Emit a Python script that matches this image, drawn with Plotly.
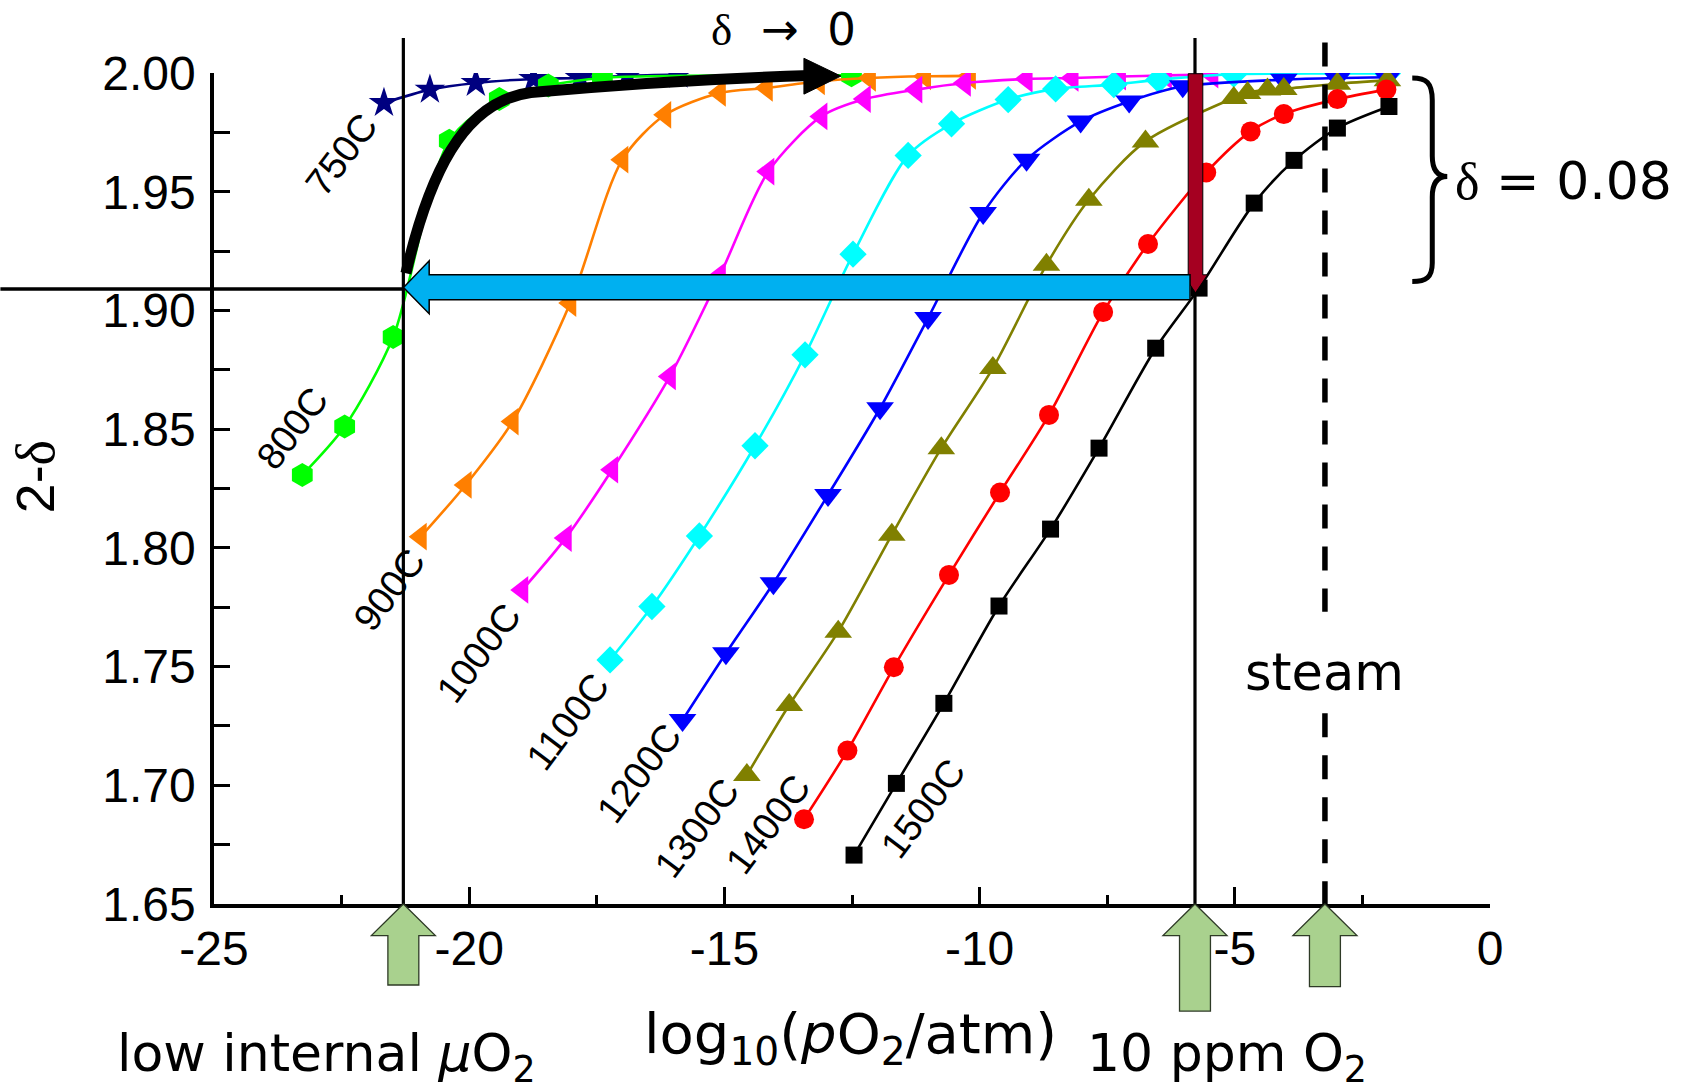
import plotly.graph_objects as go

# ---------------- data ----------------
T_LABELS = ["750C", "800C", "900C", "1000C", "1100C", "1200C", "1300C", "1400C", "1500C"]

x_750 = [-21.67, -20.77, -19.87, -18.74, -17.83, -16.90, -15.90]
y_750 = [1.9874, 1.9930, 1.9958, 1.9975, 1.9979, 1.9988, 1.9993]

x_800 = [-23.27, -22.44, -21.49, -20.39, -19.41, -18.45, -17.39, -12.51]
y_800 = [1.8307, 1.8511, 1.8888, 1.9715, 1.9890, 1.9947, 1.9979, 1.9990]

x_900 = [-20.95, -20.07, -19.15, -18.02, -17.00, -16.16, -15.09, -14.17, -13.15, -12.15, -11.07, -10.19]
y_900 = [1.8047, 1.8265, 1.8532, 1.9031, 1.9635, 1.9824, 1.9916, 1.9937, 1.9965, 1.9979, 1.9986, 1.9988]

x_1000 = [-18.96, -18.11, -17.20, -16.07, -15.09, -14.14, -13.10, -12.25, -11.24, -10.29, -9.08, -8.18, -7.25, -6.35, -5.44]
y_1000 = [1.7823, 1.8041, 1.8329, 1.8722, 1.9146, 1.9585, 1.9817, 1.9890, 1.9930, 1.9958, 1.9975, 1.9979, 1.9985, 1.9990, 1.9993]

x_1100 = [-17.24, -16.42, -15.49, -14.40, -13.42, -12.48, -11.40, -10.55, -9.44, -8.51, -7.37, -6.49, -5.02, -4.04, -2.99, -2.01]
y_1100 = [1.7528, 1.7753, 1.8050, 1.8430, 1.8813, 1.9237, 1.9653, 1.9786, 1.9888, 1.9933, 1.9951, 1.9972, 1.9995, 1.9997, 1.9998, 1.9998]

x_1200 = [-15.82, -14.97, -14.04, -12.97, -11.95, -11.01, -9.93, -9.08, -8.02, -7.07, -6.02, -4.04, -2.99, -2.01]
y_1200 = [1.7275, 1.7556, 1.7851, 1.8223, 1.8588, 1.8968, 1.9410, 1.9635, 1.9796, 1.9880, 1.9944, 1.9972, 1.9979, 1.9982]

x_1300 = [-14.56, -13.73, -12.77, -11.72, -10.75, -9.74, -8.69, -7.86, -6.75, -5.02, -4.75, -4.36, -4.04, -2.99, -2.01]
y_1300 = [1.7043, 1.7338, 1.7647, 1.8055, 1.8420, 1.8757, 1.9192, 1.9466, 1.9712, 1.9895, 1.9916, 1.9930, 1.9933, 1.9955, 1.9969]

x_1400 = [-13.44, -12.59, -11.68, -10.60, -9.60, -8.64, -7.58, -6.70, -5.56, -4.69, -4.04, -2.99, -2.03]
y_1400 = [1.6857, 1.7146, 1.7497, 1.7886, 1.8233, 1.8560, 1.8993, 1.9280, 1.9581, 1.9754, 1.9827, 1.9890, 1.9930]

x_1500 = [-12.46, -11.63, -10.70, -9.62, -8.61, -7.66, -6.55, -5.70, -4.62, -3.84, -2.99, -1.98]
y_1500 = [1.6706, 1.7008, 1.7345, 1.7755, 1.8079, 1.8420, 1.8841, 1.9094, 1.9452, 1.9632, 1.9768, 1.9859]

# curve-label anchor positions (data units)
label_x = [-22.51, -23.46, -21.57, -19.81, -18.08, -16.67, -15.54, -14.14, -11.10]
label_y = [1.9656, 1.8504, 1.7823, 1.7556, 1.7268, 1.7052, 1.6820, 1.6837, 1.6904]

# reference positions (log10 pO2)
X_LOW_MU = -21.29     # low internal muO2
X_10PPM = -5.78       # 10 ppm O2 line
X_STEAM = -3.234      # steam
Y_TARGET = 1.909      # 2-delta at intersection

X_TICKS = [-25, -20, -15, -10, -5, 0]
X_TICK_LABELS = ["-25", "-20", "-15", "-10", "-5", "0"]
Y_TICKS = [1.65, 1.70, 1.75, 1.80, 1.85, 1.90, 1.95, 2.00]
Y_TICK_LABELS = ["1.65", "1.70", "1.75", "1.80", "1.85", "1.90", "1.95", "2.00"]

X_RANGE = [-25, 0]
Y_RANGE = [1.65, 2.00]

# ---------------- styles ----------------
series = [
    (x_750, y_750, "#000080", "star", 23),
    (x_800, y_800, "#00FF00", "hexagon", 24),
    (x_900, y_900, "#FF7F00", "triangle-left", 24),
    (x_1000, y_1000, "#FF00FF", "triangle-left", 24),
    (x_1100, y_1100, "#00FFFF", "diamond", 21),
    (x_1200, y_1200, "#0000FF", "triangle-down", 24),
    (x_1300, y_1300, "#808000", "triangle-up", 24),
    (x_1400, y_1400, "#FF0000", "circle", 20),
    (x_1500, y_1500, "#000000", "square", 17),
]

SANS = "DejaVu Sans"
ARIAL = "Liberation Sans"

fig = go.Figure()
for (xs, ys, col, sym, sz), name in zip(series, T_LABELS):
    fig.add_trace(go.Scatter(
        x=xs, y=ys, mode="lines+markers", name=name,
        line=dict(color=col, width=2.6, shape="spline", smoothing=0.8),
        marker=dict(symbol=sym, size=sz, color=col, line=dict(width=0)),
        showlegend=False, hoverinfo="skip"))


def py(y):
    """data y -> paper y"""
    return (y - Y_RANGE[0]) / (Y_RANGE[1] - Y_RANGE[0])


def px(x):
    """data x -> paper x"""
    return (x - X_RANGE[0]) / (X_RANGE[1] - X_RANGE[0])


shapes = []
# vertical solid lines (extend above plot)
for xv in (X_LOW_MU, X_10PPM):
    shapes.append(dict(type="line", xref="x", yref="paper", x0=xv, x1=xv, y0=0, y1=1.042,
                       line=dict(color="black", width=3.2)))
# dashed steam line (broken around the label)
for (a, b) in ((0, 0.2295), (0.3517, 1.0368)):
    shapes.append(dict(type="line", xref="x", yref="paper", x0=X_STEAM, x1=X_STEAM, y0=b, y1=a,
                       line=dict(color="black", width=5.5, dash="24px,18px")))
# horizontal line at target 2-delta (starts at left figure edge)
shapes.append(dict(type="line", xref="paper", yref="y", x0=-0.1674, x1=px(X_LOW_MU), y0=Y_TARGET, y1=Y_TARGET,
                   line=dict(color="black", width=3.5)))

# dark red down arrow at 10 ppm
xr, bw, hw = -5.77, 0.143, 0.235
red_path = (f"M {xr-bw},1.9997 L {xr+bw},1.9997 L {xr+bw},1.9150 L {xr+hw},1.9150 "
            f"L {xr},1.9074 L {xr-hw},1.9150 L {xr-bw},1.9150 Z")
shapes.append(dict(type="path", xref="x", yref="y", path=red_path, fillcolor="#A50021",
                   line=dict(color="black", width=1)))

# big blue left arrow
blue_path = ("M -21.287,1.9097 L -20.784,1.9209 L -20.784,1.9150 L -5.877,1.9150 "
             "L -5.877,1.9045 L -20.784,1.9045 L -20.784,1.8986 Z")
shapes.append(dict(type="path", xref="x", yref="y", path=blue_path, fillcolor="#00B0F0",
                   line=dict(color="black", width=1.5)))

# thick black curved arrow (delta -> 0)
bpts = [(-21.240, 1.9157), (-20.80, 1.9560), (-20.15, 1.9880), (-18.793, 1.9918),
        (-17.436, 1.9944), (-15.478, 1.9976), (-13.318, 1.9989)]
p = [(a, py(b)) for a, b in bpts]
black_path = (f"M {p[0][0]},{p[0][1]} C {p[1][0]},{p[1][1]} {p[2][0]},{p[2][1]} {p[3][0]},{p[3][1]} "
              f"C {p[4][0]},{p[4][1]} {p[5][0]},{p[5][1]} {p[6][0]},{p[6][1]}")
shapes.append(dict(type="path", xref="x", yref="paper", path=black_path,
                   line=dict(color="black", width=11)))
head = [(-13.442, 2.0062), (-12.718, 1.9987), (-13.442, 1.9911)]
hp = [(a, py(b)) for a, b in head]
shapes.append(dict(type="path", xref="x", yref="paper",
                   path=f"M {hp[0][0]},{hp[0][1]} L {hp[1][0]},{hp[1][1]} L {hp[2][0]},{hp[2][1]} Z",
                   fillcolor="black", line=dict(color="black", width=1)))

# curly brace for delta = 0.08
brace = ("M -1.523,1.9979 C -1.25,1.9979 -1.131,1.9960 -1.131,1.9885 L -1.131,1.9650 "
         "C -1.131,1.9585 -1.00,1.9564 -0.837,1.9564 C -1.00,1.9564 -1.131,1.9543 -1.131,1.9478 "
         "L -1.131,1.9200 C -1.131,1.9140 -1.25,1.9122 -1.523,1.9122")
shapes.append(dict(type="path", xref="x", yref="y", path=brace, line=dict(color="black", width=5)))

# green up arrows below the axis
HB, HWg, BWg = -0.038, 0.627, 0.303
for xc, bot in ((X_LOW_MU, -0.0975), (X_10PPM, -0.1288), (X_STEAM, -0.0995)):
    path = (f"M {xc},0 L {xc+HWg},{HB} L {xc+BWg},{HB} L {xc+BWg},{bot} L {xc-BWg},{bot} "
            f"L {xc-BWg},{HB} L {xc-HWg},{HB} Z")
    shapes.append(dict(type="path", xref="x", yref="paper", path=path, fillcolor="#A9D18E",
                       line=dict(color="#2e3a26", width=1.3)))

annotations = []
for t, lx, ly in zip(T_LABELS, label_x, label_y):
    annotations.append(dict(x=lx, y=ly, xref="x", yref="y", text=t, showarrow=False, textangle=-53,
                            font=dict(family=ARIAL, size=38, color="black"),
                            xanchor="center", yanchor="middle"))

SERIF_D = '<span style="font-family:Liberation Serif">δ</span>'
annotations += [
    dict(x=-13.85, y=1.052, xref="x", yref="paper", text=SERIF_D + "\u00a0 →\u00a0 0", showarrow=False,
         font=dict(family=SANS, size=45, color="black"), xanchor="center", yanchor="middle"),
    dict(x=-0.72, y=1.9545, xref="x", yref="y", text=SERIF_D + " = 0.08", showarrow=False,
         font=dict(family=SANS, size=52, color="black"), xanchor="left", yanchor="middle"),
    dict(x=X_STEAM, y=1.7477, xref="x", yref="y", text="steam", showarrow=False,
         font=dict(family=SANS, size=51, color="black"), xanchor="center", yanchor="middle"),
    dict(x=0.0884, y=-0.184, xref="paper", yref="paper", text="low internal <i>μ</i>O<sub>2</sub>",
         showarrow=False, font=dict(family=SANS, size=52, color="black"), xanchor="center", yanchor="middle"),
    dict(x=0.4988, y=-0.1605, xref="paper", yref="paper", text="log<sub>10</sub>(<i>p</i>O<sub>2</sub>/atm)",
         showarrow=False, font=dict(family=SANS, size=56, color="black"), xanchor="center", yanchor="middle"),
    dict(x=0.7938, y=-0.1837, xref="paper", yref="paper", text="10 ppm O<sub>2</sub>",
         showarrow=False, font=dict(family=SANS, size=52, color="black"), xanchor="center", yanchor="middle"),
    dict(x=-0.14, y=0.5138, xref="paper", yref="paper", text="2-" + SERIF_D, textangle=-90,
         showarrow=False, font=dict(family=ARIAL, size=54, color="black"), xanchor="center", yanchor="middle"),
]

fig.update_layout(
    width=1701, height=1092,
    margin=dict(l=214, r=211, t=73, b=188, pad=0),
    paper_bgcolor="white", plot_bgcolor="white",
    showlegend=False,
    shapes=shapes, annotations=annotations,
    xaxis=dict(range=X_RANGE, showgrid=False, zeroline=False, showline=True, linecolor="black", linewidth=3.5,
               ticks="inside", ticklen=17, tickwidth=3, tickcolor="black",
               tickmode="array", tickvals=X_TICKS, ticktext=X_TICK_LABELS,
               minor=dict(tickmode="linear", tick0=0, dtick=2.5, ticks="inside", ticklen=9, tickwidth=3,
                          tickcolor="black", showgrid=False),
               tickfont=dict(family=ARIAL, size=48, color="black")),
    yaxis=dict(range=Y_RANGE, showgrid=False, zeroline=False, showline=True, linecolor="black", linewidth=3.5,
               ticks="inside", ticklen=16, tickwidth=3, tickcolor="black",
               tickmode="array", tickvals=Y_TICKS, ticktext=Y_TICK_LABELS, ticklabelstandoff=5,
               minor=dict(tickmode="linear", tick0=1.65, dtick=0.025, ticks="inside", ticklen=16, tickwidth=3,
                          tickcolor="black", showgrid=False),
               tickfont=dict(family=ARIAL, size=48, color="black")),
)

fig.write_html("out.html")
